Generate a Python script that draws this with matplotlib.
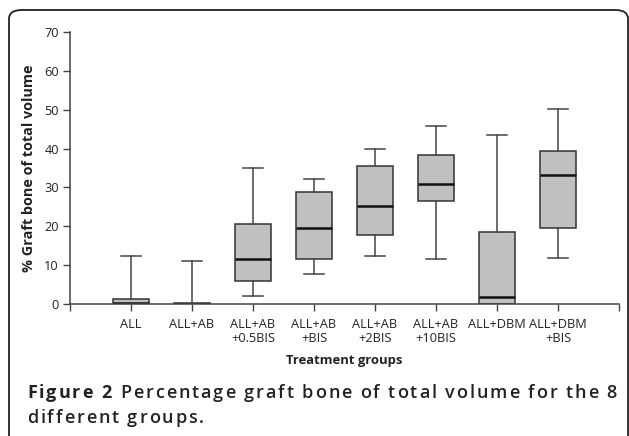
import matplotlib
matplotlib.use("Agg")
import matplotlib.pyplot as plt
from matplotlib.patches import FancyBboxPatch

groups = ["ALL", "ALL+AB\n", "ALL+AB\n+0.5BIS", "ALL+AB\n+BIS", "ALL+AB\n+2BIS",
          "ALL+AB\n+10BIS", "ALL+DBM", "ALL+DBM\n+BIS"]
whisker_low = [0.0, 0.0, 2.1, 7.8, 12.3, 11.7, 0.0, 11.9]
q1 = [0.0, 0.0, 6.0, 11.6, 17.7, 26.4, 0.0, 19.5]
median = [0.2, 0.1, 11.6, 19.5, 25.2, 31.0, 1.9, 33.3]
q3 = [1.3, 0.3, 20.7, 28.7, 35.5, 38.3, 18.6, 39.4]
whisker_high = [12.3, 11.0, 34.9, 32.1, 39.8, 45.8, 43.6, 50.2]

W, H = 629, 436
plt.rcParams['font.family'] = ['Open Sans', 'DejaVu Sans']
fig = plt.figure(figsize=(W / 100, H / 100), dpi=100)

# outer rounded frame
frame = FancyBboxPatch((9 / W, -20 / H), 619 / W, (H - 10 + 20) / H,
                       boxstyle="round,pad=0,rounding_size=0.02",
                       transform=fig.transFigure, fill=False,
                       edgecolor="#222222", linewidth=1.3, clip_on=False)
fig.patches.append(frame)

ax = fig.add_axes([70 / W, 132 / H, 549 / W, 272 / H])
stats = []
for i in range(len(groups)):
    stats.append(dict(whislo=whisker_low[i], q1=q1[i], med=median[i], q3=q3[i],
                      whishi=whisker_high[i], fliers=[], label=groups[i]))
pos = list(range(1, len(groups) + 1))
ax.bxp(stats, positions=pos, widths=0.59, patch_artist=True, showfliers=False,
       boxprops=dict(facecolor="#c0c0c0", edgecolor="#333333", linewidth=1.1),
       medianprops=dict(color="#111111", linewidth=1.8),
       whiskerprops=dict(color="#444444", linewidth=1.1),
       capprops=dict(color="#444444", linewidth=1.1),
       capwidths=0.33)
ax.set_xlim(0, 9)
ax.set_ylim(0, 70)
ax.set_yticks(range(0, 71, 10))
ax.set_xticks(range(0, 10))
ax.set_xticklabels([""] + groups + [""], fontsize=9.2, linespacing=1.15)
ax.tick_params(axis="y", labelsize=9.2, length=5, color="#444444", width=1, pad=3,
               labelcolor="#222222")
ax.tick_params(axis="x", length=5, color="#444444", width=1, pad=5,
               labelcolor="#222222")
for s in ["top", "right"]:
    ax.spines[s].set_visible(False)
for s in ["left", "bottom"]:
    ax.spines[s].set_color("#444444")
    ax.spines[s].set_linewidth(1.1)
ax.patch.set_alpha(0)
ax.set_ylabel("% Graft bone of total volume", fontsize=10.4, fontweight="bold",
              labelpad=6, color="#222222")
ax.set_xlabel("Treatment groups", fontsize=9.4, fontweight="bold", labelpad=6,
              color="#222222")

# caption with letter tracking; line 1 justified
renderer = fig.canvas.get_renderer()
FS = 13


def char_runs(words, bold_count):
    runs = []
    for k, w in enumerate(words):
        wt = "bold" if k < bold_count else 600
        chars = []
        for ch in w:
            t = fig.text(0, 0, ch, fontsize=FS, fontweight=wt, va="baseline",
                         ha="left", color="#222222")
            chars.append((t, t.get_window_extent(renderer).width))
        runs.append(chars)
    return runs


sp = fig.text(0, 0, "a a", fontsize=FS, fontweight=600)
sp_w = sp.get_window_extent(renderer).width
sp2 = fig.text(0, 0, "aa", fontsize=FS, fontweight=600)
space_w = sp_w - sp2.get_window_extent(renderer).width
sp.remove()
sp2.remove()

line1 = ["Figure", "2", "Percentage", "graft", "bone", "of", "total", "volume", "for", "the", "8"]
runs = char_runs(line1, 2)
x0, x1 = 27, 617
nchars = sum(len(r) for r in runs)
base = sum(wd for r in runs for _, wd in r) + space_w * (len(runs) - 1)
track = (x1 - x0 - base) / (nchars - 1 + (len(runs) - 1))
x = x0
for r in runs:
    for t, wd in r:
        t.set_position((x / W, 1 - 398 / H))
        x += wd + track
    x += space_w + track

line2 = ["different", "groups."]
runs2 = char_runs(line2, 0)
x = x0
for r in runs2:
    for t, wd in r:
        t.set_position((x / W, 1 - 423 / H))
        x += wd + track
    x += space_w + track

fig.savefig("out.png", dpi=100)
